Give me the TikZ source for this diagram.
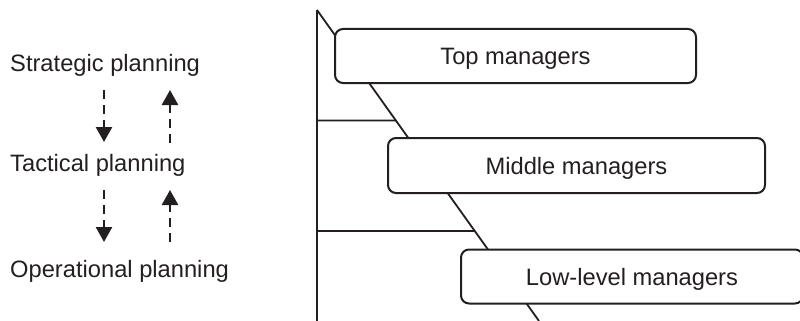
\documentclass[tikz,border=0pt]{standalone}
\usepackage{fontspec}
\setmainfont{Liberation Sans}
\usetikzlibrary{arrows.meta,calc}
\definecolor{ink}{HTML}{231F20}
\begin{document}
\begin{tikzpicture}[x=1pt,y=-1pt,color=ink,
  label/.style={anchor=base west,inner sep=0pt,font=\fontsize{23.7}{28}\selectfont},
  level/.style={draw,line width=2pt,fill=white,rounded corners=8pt,
    inner sep=0pt,text height=17pt,text depth=0pt,
    font=\fontsize{23.7}{28}\selectfont},
  rule/.style={line width=1.8pt},
  flow/.style={line width=2.5pt,dash pattern=on 9pt off 6pt,
    -{Triangle[width=16pt,length=15pt]}}]
\useasboundingbox (0,0) rectangle (800,321);

% planning levels
\node[label] (strat) at (10,71) {Strategic planning};
\node[label] (tact)  at (10,171) {Tactical planning};
\node[label] (oper)  at (10,277) {Operational planning};

% flows between planning levels
\coordinate (d1s) at (104,90);  \coordinate (d1e) at (104,142);
\coordinate (u1s) at (170,143); \coordinate (u1e) at (170,90);
\coordinate (d2s) at (104,190); \coordinate (d2e) at (104,242);
\coordinate (u2s) at (170,242); \coordinate (u2e) at (170,190);
\draw[flow] (d1s) -- (d1e);
\draw[flow] (u1s) -- (u1e);
\draw[flow] (d2s) -- (d2e);
\draw[flow] (u2s) -- (u2e);

% hierarchy frame
\coordinate (apex) at (317,10);
\coordinate (base) at (317,321);
\coordinate (foot) at (539,321);
\draw[rule] (apex) -- (base);
\draw[rule] (apex) -- (foot);
\coordinate (h1) at (317,120.5);
\coordinate (h2) at (317,231);
\draw[rule] (h1) -- ($(apex)!{(120.5-10)/311}!(foot)$);
\draw[rule] (h2) -- ($(apex)!{(231-10)/311}!(foot)$);

% manager levels
\node[level,minimum width=361pt,minimum height=54pt] (top) at (515.5,56) {Top managers};
\node[level,minimum width=377pt,minimum height=55pt] (mid) at (576.5,165.5) {Middle managers};
\node[level,minimum width=342pt,minimum height=54pt] (low) at (632,276.5) {Low-level managers};
\end{tikzpicture}
\end{document}
